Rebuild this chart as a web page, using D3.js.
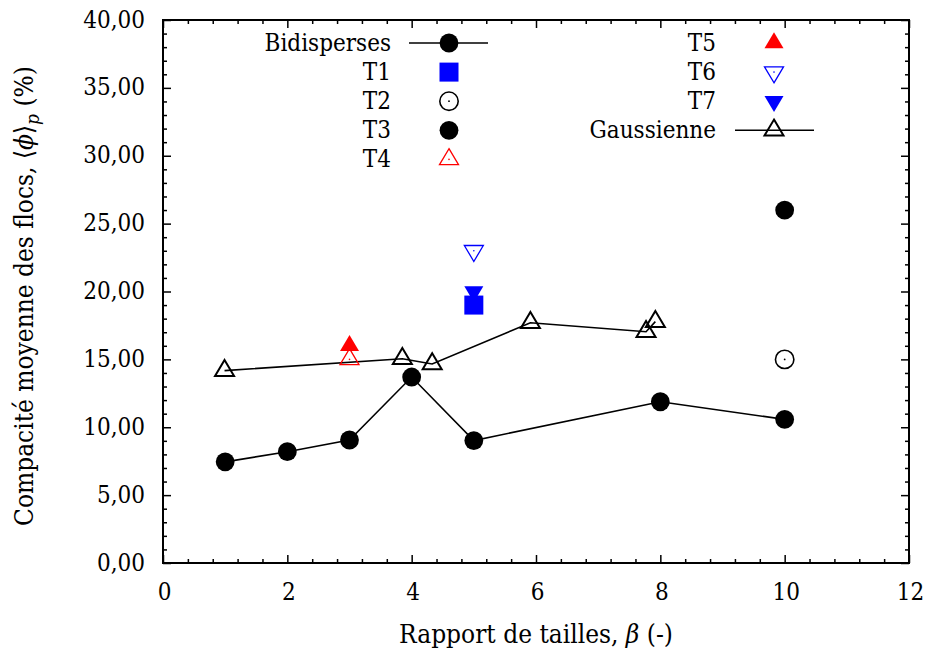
<!DOCTYPE html>
<html>
<head>
<meta charset="utf-8">
<script src="https://cdn.jsdelivr.net/npm/d3@7"></script>
<style>
  html, body { margin: 0; padding: 0; background: #fff; }
  svg { display: block; }
</style>
</head>
<body>
<svg id="chart" width="928" height="652"></svg>
<script>
// Bidisperse mixtures (line + filled circles)
const bidiX = [1, 2, 3, 4, 5, 8, 10];
const bidiY = [7.45, 8.2, 9.06, 13.7, 9.02, 11.88, 10.58];

// Gaussian distributions (line + open triangles)
const gaussX = [0.99, 3.85, 4.33, 5.91, 7.77, 7.92];
const gaussY = [14.17, 15.05, 14.66, 17.7, 17.04, 17.78];

// Ternary mixtures T1..T7, one point each
const ternNames = ["T1", "T2", "T3", "T4", "T5", "T6", "T7"];
const ternX = [5, 10, 10, 3, 3, 5, 5];
const ternY = [19.0, 15.0, 26.0, 15.0, 16.0, 23.0, 20.0];

// Axis ticks
const xTicks = [0, 2, 4, 6, 8, 10, 12];
const yTicks = [0, 5, 10, 15, 20, 25, 30, 35, 40];

// Marker style for each series
const markerOf = {
  Bidisperses: { shape: "circle", fill: "#000", stroke: "none" },
  T1: { shape: "square", fill: "#0000ff", stroke: "none" },
  T2: { shape: "circleDot", fill: "none", stroke: "#000" },
  T3: { shape: "circle", fill: "#000", stroke: "none" },
  T4: { shape: "triUpDot", fill: "none", stroke: "#ff0000" },
  T5: { shape: "triUp", fill: "#ff0000", stroke: "none" },
  T6: { shape: "triDownDot", fill: "none", stroke: "#0000ff" },
  T7: { shape: "triDown", fill: "#0000ff", stroke: "none" },
  Gaussienne: { shape: "triUp", fill: "none", stroke: "#000", width: 2 }
};

const FONT = '"DejaVu Serif Condensed", "DejaVu Serif", serif';
const svg = d3.select("#chart");
const mLeft = 163, mRight = 909, mTop = 20, mBottom = 563;

const x = d3.scaleLinear().domain([0, 12]).range([mLeft, mRight]);
const y = d3.scaleLinear().domain([0, 40]).range([mBottom, mTop]);

const fmtY = v => d3.format(".2f")(v).replace(".", ",");

function label(sel, size) {
  return sel.style("font-family", FONT).style("font-size", size + "px").attr("fill", "#000");
}

// minor tick values
const xMinor = d3.range(0, 12.0001, 0.4).filter(v => Math.abs(v / 2 - Math.round(v / 2)) > 1e-6);
const yMinor = d3.range(0, 40.0001, 1).filter(v => v % 5 !== 0);

function styleAxis(g) {
  g.select(".domain").remove();
  g.selectAll(".tick line").attr("stroke", "#000").attr("stroke-width", 1.5);
}

function tickSet(values, len) {
  svg.append("g").attr("transform", `translate(0,${mBottom})`)
    .call(d3.axisBottom(x).tickValues(values.x).tickSizeInner(-len).tickSizeOuter(0).tickFormat(""))
    .call(styleAxis);
  svg.append("g").attr("transform", `translate(0,${mTop})`)
    .call(d3.axisTop(x).tickValues(values.x).tickSizeInner(-len).tickSizeOuter(0).tickFormat(""))
    .call(styleAxis);
  svg.append("g").attr("transform", `translate(${mLeft},0)`)
    .call(d3.axisLeft(y).tickValues(values.y).tickSizeInner(-len).tickSizeOuter(0).tickFormat(""))
    .call(styleAxis);
  svg.append("g").attr("transform", `translate(${mRight},0)`)
    .call(d3.axisRight(y).tickValues(values.y).tickSizeInner(-len).tickSizeOuter(0).tickFormat(""))
    .call(styleAxis);
}
// major ticks then minor ticks, pointing inward on every side
tickSet({ x: xTicks, y: yTicks }, 8);
tickSet({ x: xMinor, y: yMinor }, 4);

// tick labels
svg.append("g").selectAll("text").data(xTicks).join("text")
  .attr("x", d => x(d) + 1.5).attr("y", mBottom + 37)
  .attr("text-anchor", "middle")
  .call(label, 24)
  .text(d => d);
svg.append("g").selectAll("text").data(yTicks).join("text")
  .attr("x", mLeft - 18).attr("y", d => y(d) + 7.5)
  .attr("text-anchor", "end")
  .call(label, 24)
  .text(fmtY);

// frame
svg.append("rect").attr("x", mLeft).attr("y", mTop)
  .attr("width", mRight - mLeft).attr("height", mBottom - mTop)
  .attr("fill", "none").attr("stroke", "#000").attr("stroke-width", 2);

// axis titles
const xt = svg.append("text").attr("x", (mLeft + mRight) / 2).attr("y", 643)
  .attr("text-anchor", "middle").call(label, 26);
xt.append("tspan").text("Rapport de tailles, ");
xt.append("tspan").attr("font-style", "italic").text("β");
xt.append("tspan").text(" (-)");

const yt = svg.append("text")
  .attr("transform", `translate(33,296) rotate(-90)`)
  .attr("text-anchor", "middle").call(label, 26);
yt.append("tspan").text("Compacité moyenne des flocs, ⟨");
yt.append("tspan").attr("font-style", "italic").text("ϕ");
yt.append("tspan").text("⟩");
yt.append("tspan").attr("font-style", "italic").style("font-size", "19px").attr("dy", 6).text("p");
yt.append("tspan").attr("dy", -6).text(" (%)");

// marker drawing
function marker(g, cx, cy, m) {
  const sw = m.width || 1.3;
  if (m.shape === "circle") {
    g.append("circle").attr("cx", cx).attr("cy", cy).attr("r", 9.4).attr("fill", m.fill);
  } else if (m.shape === "circleDot") {
    g.append("circle").attr("cx", cx).attr("cy", cy).attr("r", 9.2)
      .attr("fill", "none").attr("stroke", m.stroke).attr("stroke-width", 1.6);
    g.append("circle").attr("cx", cx).attr("cy", cy).attr("r", 0.9).attr("fill", m.stroke);
  } else if (m.shape === "square") {
    g.append("rect").attr("x", cx - 9.5).attr("y", cy - 9.5).attr("width", 19).attr("height", 19).attr("fill", m.fill);
  } else {
    const up = m.shape.startsWith("triUp");
    const s = up ? 1 : -1;
    const pts = [[cx, cy - s * 10.7], [cx + 9.5, cy + s * 5.3], [cx - 9.5, cy + s * 5.3]];
    g.append("path").attr("d", "M" + pts.map(p => p.join(",")).join("L") + "Z")
      .attr("fill", m.fill).attr("stroke", m.stroke).attr("stroke-width", m.stroke === "none" ? 0 : sw)
      .attr("stroke-linejoin", "miter");
    if (m.shape.endsWith("Dot")) {
      g.append("circle").attr("cx", cx).attr("cy", cy).attr("r", 0.8).attr("fill", m.stroke);
    }
  }
}

const line = d3.line().x(d => x(d[0])).y(d => y(d[1]));
const plot = svg.append("g");

// Gaussian series
const gaussPts = gaussX.map((v, i) => [v, gaussY[i]]);
plot.append("path").attr("d", line(gaussPts)).attr("fill", "none").attr("stroke", "#000").attr("stroke-width", 1.6);
gaussPts.forEach(p => marker(plot, x(p[0]), y(p[1]), markerOf.Gaussienne));

// Bidisperse series
const bidiPts = bidiX.map((v, i) => [v, bidiY[i]]);
plot.append("path").attr("d", line(bidiPts)).attr("fill", "none").attr("stroke", "#000").attr("stroke-width", 1.6);
bidiPts.forEach(p => marker(plot, x(p[0]), y(p[1]), markerOf.Bidisperses));

// Ternary points (T7 under T1 so the square stays on top)
const drawOrder = ["T7", "T1", "T2", "T3", "T4", "T5", "T6"];
drawOrder.forEach(n => {
  const i = ternNames.indexOf(n);
  marker(plot, x(ternX[i]), y(ternY[i]), markerOf[n]);
});

// legend
const legendCols = [
  { textRight: 391, mark: 449, lineFrom: 409, lineTo: 488, items: ["Bidisperses", "T1", "T2", "T3", "T4"] },
  { textRight: 716, mark: 774, lineFrom: 735, lineTo: 814, items: ["T5", "T6", "T7", "Gaussienne"] }
];
const rowY0 = 43, rowStep = 29.1;
const withLine = new Set(["Bidisperses", "Gaussienne"]);
const lg = svg.append("g");
legendCols.forEach(col => {
  col.items.forEach((name, i) => {
    const cy = rowY0 + i * rowStep;
    lg.append("text").attr("x", col.textRight).attr("y", cy + 8)
      .attr("text-anchor", "end").call(label, 24).text(name);
    if (withLine.has(name)) {
      lg.append("line").attr("x1", col.lineFrom).attr("x2", col.lineTo)
        .attr("y1", cy).attr("y2", cy).attr("stroke", "#000").attr("stroke-width", 1.6);
    }
    marker(lg, col.mark, cy, markerOf[name]);
  });
});
</script>
</body>
</html>
